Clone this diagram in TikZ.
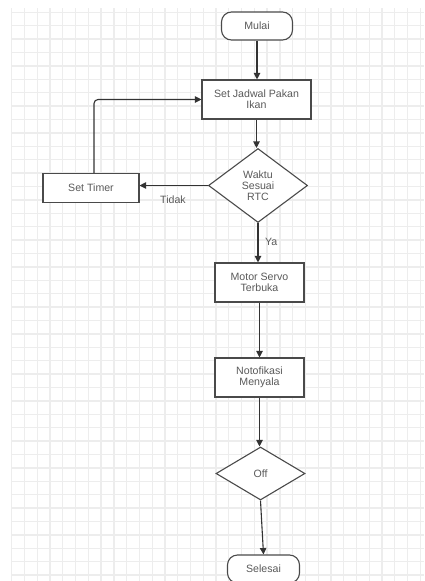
\documentclass[tikz,border=0pt]{standalone}
\usepackage{fontspec}
\setmainfont{Liberation Sans}
\usetikzlibrary{shapes.geometric,arrows.meta}
\definecolor{gridc}{HTML}{EDEDED}
\definecolor{linec}{HTML}{4A4A4A}
\definecolor{textc}{HTML}{5A5A5A}
\tikzset{
  gridline/.style={draw=gridc,line width=1.3pt},
  base/.style={draw=linec,line width=1.1pt,fill=white,text=textc,align=center,
    font=\fontsize{10.6}{11}\selectfont,inner sep=0pt},
  terminal/.style={base,rounded corners=10pt,minimum width=71pt,minimum height=28pt},
  process/.style={base,rectangle,minimum width=89pt,minimum height=39pt},
  decision/.style={base,diamond},
  flow/.style={draw=black!80,line width=1.1pt,-{Triangle[length=6.5pt,width=6.5pt]}},
  lbl/.style={text=textc,font=\fontsize{10.6}{11}\selectfont,inner sep=0pt}
}
\begin{document}
\begin{tikzpicture}[x=1pt,y=-1pt]
\useasboundingbox (0,0) rectangle (424,581);
% grid
\foreach \i in {0,...,32} \draw[gridline] (11.7+\i*12.77,8) -- (11.7+\i*12.77,581);
\foreach \j in {0,...,42} \draw[gridline] (11,12.3+\j*13.4) -- (424,12.3+\j*13.4);
% nodes
\node[terminal] (mulai) at (257,26) {Mulai};
\node[process,minimum width=109pt] (jadwal) at (256.5,99.5) {Set Jadwal Pakan\\Ikan};
\node[decision,minimum width=99pt,minimum height=74pt] (waktu) at (258,185.5) {Waktu\\Sesuai\\RTC};
\node[process,minimum width=96pt,minimum height=29pt] (timer) at (91,188) {Set Timer};
\node[process] (servo) at (259.5,282.5) {Motor Servo\\Terbuka};
\node[process] (notif) at (259.5,377.5) {Notofikasi\\Menyala};
\node[decision,minimum width=89pt,minimum height=53pt] (off) at (260.5,473.5) {Off};
\node[terminal,minimum width=72pt] (selesai) at (263.5,569) {Selesai};
% labels
\node[lbl] (tidak) at (173,200) {Tidak};
\node[lbl,anchor=west] (ya) at (265,242) {Ya};
% connectors
\draw[flow] (mulai.south) -- (mulai.south |- jadwal.north);
\draw[flow] (jadwal.south) -- (jadwal.south |- waktu.north);
\draw[flow] (waktu.west) -- (waktu.west -| timer.east);
\draw[flow,rounded corners=4pt] ([xshift=3pt]timer.north) |- (jadwal.west);
\draw[flow] (waktu.south) -- (waktu.south |- servo.north);
\draw[flow] (servo.south) -- (servo.south |- notif.north);
\draw[flow] (notif.south) -- (notif.south |- off.north);
\draw[flow] (off.south) -- (selesai.north);
\end{tikzpicture}
\end{document}
